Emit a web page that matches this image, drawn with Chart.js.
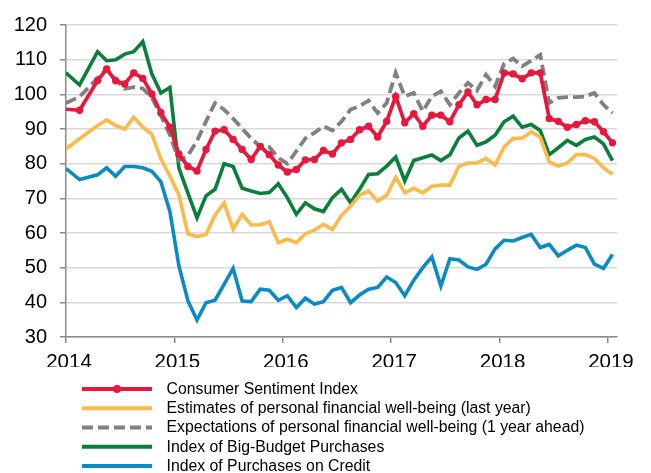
<!DOCTYPE html>
<html>
<head>
<meta charset="utf-8">
<script src="https://cdn.jsdelivr.net/npm/chart.js@4"></script>
<style>
    html, body { margin: 0; padding: 0; background: #fff; }
    #wrap { width: 651px; height: 473px; position: relative; }
</style>
</head>
<body>
<div id="wrap"><canvas id="myChart"></canvas></div>
<script>
// Survey positions, in months since January 2014 (values are mid-month)
const months = [0, 1.5, 3.5, 4.5, 5.5, 6.5, 7.5, 8.5, 9.5, 10.5, 11.5,
    12.5, 13.5, 14.5, 15.5, 16.5, 17.5, 18.5, 19.5, 20.5, 21.5, 22.5, 23.5,
    24.5, 25.5, 26.5, 27.5, 28.5, 29.5, 30.5, 31.5, 32.5, 33.5, 34.5, 35.5,
    36.5, 37.5, 38.5, 39.5, 40.5, 41.5, 42.5, 43.5, 44.5, 45.5, 46.5, 47.5,
    48.5, 49.5, 50.5, 51.5, 52.5, 53.5, 54.5, 55.5, 56.5, 57.5, 58.5, 59.5, 60.5];

const sentiment = [95.7, 95.4, 104.0, 107.3, 103.9, 103.0, 106.2, 104.6, 100.1, 94.7, 90.5,
    82.7, 79.2, 77.9, 84.1, 89.4, 89.8, 87.0, 84.1, 81.2, 85.0, 82.6, 79.6,
    77.6, 78.3, 81.1, 81.2, 83.8, 82.8, 86.0, 87.0, 89.8, 90.8, 87.7, 92.2,
    99.4, 91.8, 94.4, 90.8, 94.0, 94.0, 92.1, 97.0, 100.7, 97.0, 98.5, 98.5,
    106.2, 105.9, 104.5, 106.2, 106.2, 93.0, 92.2, 90.5, 91.3, 92.4, 92.1, 89.2, 86.0];

const estimates = [84.3, 87.2, 91.0, 92.6, 91.0, 90.0, 93.4, 90.5, 88.5, 81.4, 76.4,
    71.0, 59.7, 59.0, 59.6, 65.2, 68.6, 61.1, 65.4, 62.3, 62.4, 63.2, 57.2,
    58.2, 57.2, 59.8, 60.8, 62.5, 61.0, 65.1, 67.7, 70.9, 72.1, 69.2, 70.9,
    76.1, 71.6, 72.9, 71.6, 73.5, 73.8, 73.8, 79.3, 80.2, 80.2, 81.5, 79.6,
    84.8, 87.3, 87.4, 89.2, 87.6, 80.5, 79.3, 80.2, 82.6, 82.6, 81.5, 78.8, 76.9];

const expectations = [97.5, 99.3, 104.7, 107.3, 104.3, 101.6, 102.1, 101.7, 99.1, 93.9, 88.3,
    81.0, 82.4, 86.5, 92.2, 97.5, 95.6, 93.0, 90.1, 87.3, 85.0, 84.8, 81.7,
    80.0, 83.6, 87.3, 88.9, 90.8, 89.6, 92.2, 95.6, 96.6, 98.2, 94.6, 97.5,
    106.2, 99.4, 100.4, 95.1, 99.4, 100.9, 97.0, 100.4, 103.3, 101.1, 105.7, 102.3,
    108.8, 110.3, 108.1, 109.7, 111.4, 97.5, 99.0, 99.2, 99.2, 99.4, 100.4, 97.0, 94.6];

const bigBudget = [106.2, 102.7, 112.3, 109.7, 110.0, 111.6, 112.3, 115.2, 105.9, 100.4, 102.0,
    78.7, 71.5, 64.4, 70.7, 72.6, 80.0, 79.2, 72.9, 72.1, 71.4, 71.7, 74.2,
    70.2, 65.4, 68.7, 67.0, 66.2, 70.2, 72.6, 68.7, 72.6, 76.9, 77.1, 79.3,
    81.9, 75.0, 80.9, 81.7, 82.5, 80.9, 82.6, 87.4, 89.4, 85.3, 86.3, 88.2,
    92.1, 93.7, 90.5, 91.3, 89.6, 82.6, 84.6, 86.7, 85.3, 87.0, 87.7, 85.7, 80.9];

const credit = [78.6, 75.4, 76.8, 78.8, 76.4, 79.2, 79.2, 78.8, 77.8, 74.8, 66.2,
    50.5, 40.4, 34.9, 39.9, 40.6, 45.2, 49.8, 40.4, 40.2, 43.8, 43.5, 40.6,
    41.9, 38.5, 41.2, 39.5, 40.2, 43.5, 44.3, 39.9, 42.1, 43.8, 44.3, 47.3,
    45.7, 41.9, 46.4, 50.0, 53.1, 44.7, 52.6, 52.2, 50.2, 49.5, 51.0, 55.4,
    57.9, 57.7, 58.7, 59.6, 55.8, 56.7, 53.4, 55.0, 56.5, 55.8, 51.0, 49.8, 53.8];

const yearTicks = [0, 12, 24, 36, 48, 60];
const yearLabels = ['2014', '2015', '2016', '2017', '2018', '2019'];

const seriesNames = [
    'Consumer Sentiment Index',
    'Estimates of personal financial well-being (last year)',
    'Expectations of personal financial well-being (1 year ahead)',
    'Index of Big-Budget Purchases',
    'Index of Purchases on Credit'
];

const toPoints = values => values.map((v, i) => ({ x: months[i], y: v }));

// Legend drawn by hand: long line samples, stacked on the left
const sideLegend = {
    id: 'sideLegend',
    afterDraw(chart) {
        const ctx = chart.ctx;
        const rowTop = 389;
        const rowStep = 19.25;
        ctx.save();
        chart.data.datasets.forEach((ds, i) => {
            const y = rowTop + i * rowStep;
            ctx.beginPath();
            ctx.strokeStyle = ds.borderColor;
            ctx.lineWidth = 4;
            ctx.setLineDash(ds.borderDash || []);
            ctx.moveTo(82, y);
            ctx.lineTo(152, y);
            ctx.stroke();
            ctx.setLineDash([]);
            if (ds.showMarker) {
                ctx.beginPath();
                ctx.fillStyle = ds.borderColor;
                ctx.arc(117, y, 4, 0, Math.PI * 2);
                ctx.fill();
            }
            ctx.fillStyle = '#000';
            ctx.font = '15.8px "Liberation Sans", Arial, sans-serif';
            ctx.textBaseline = 'middle';
            ctx.textAlign = 'left';
            ctx.fillText(ds.label, 166.5, y + 0.5);
        });
        ctx.restore();
    }
};

const ctx = document.getElementById('myChart');

new Chart(ctx, {
    type: 'line',
    data: {
        datasets: [{
            label: seriesNames[0],
            data: toPoints(sentiment),
            borderColor: '#E8173C',
            backgroundColor: '#E8173C',
            borderWidth: 3.7,
            pointRadius: c => c.dataIndex === 0 ? 0 : 3.7,
            pointBorderWidth: 0,
            showMarker: true,
        }, {
            label: seriesNames[1],
            data: toPoints(estimates),
            borderColor: '#FDB94A',
            borderWidth: 3.6,
            pointRadius: 0,
        }, {
            label: seriesNames[2],
            data: toPoints(expectations),
            borderColor: '#808080',
            borderWidth: 3.8,
            borderDash: [11, 5],
            pointRadius: 0,
        }, {
            label: seriesNames[3],
            data: toPoints(bigBudget),
            borderColor: '#0A7F3A',
            borderWidth: 3.6,
            pointRadius: 0,
        }, {
            label: seriesNames[4],
            data: toPoints(credit),
            borderColor: '#0A8BC6',
            borderWidth: 3.6,
            pointRadius: 0,
        }]
    },
    options: {
        responsive: true,
        maintainAspectRatio: false,
        animation: false,
        events: [],
        layout: {
            padding: { left: 0, top: 24, right: 34, bottom: 106 }
        },
        plugins: {
            legend: { display: false },
            tooltip: { enabled: false }
        },
        scales: {
            x: {
                type: 'linear',
                min: 0,
                max: 61,
                afterBuildTicks: scale => {
                    scale.ticks = yearTicks.map(v => ({ value: v }));
                },
                afterFit: scale => { scale.height = 30; },
                ticks: {
                    callback: value => yearLabels[yearTicks.indexOf(value)],
                    color: '#000',
                    font: { family: '"Liberation Sans", Arial, sans-serif', size: 20.5 },
                    padding: 7,
                    labelOffset: 3,
                    maxRotation: 0,
                },
                grid: {
                    drawOnChartArea: false,
                    drawTicks: true,
                    tickLength: 6,
                    tickColor: '#8a8a8a',
                    lineWidth: 1.5,
                },
                border: { color: '#8a8a8a', width: 1.5 }
            },
            y: {
                min: 30,
                max: 120,
                afterFit: scale => { scale.width = 66; },
                ticks: {
                    stepSize: 10,
                    color: '#000',
                    font: { family: '"Liberation Sans", Arial, sans-serif', size: 20 },
                    padding: 13,
                },
                grid: {
                    color: '#d9d9d9',
                    lineWidth: 1.5,
                    tickLength: 6,
                    tickColor: '#8a8a8a',
                },
                border: { color: '#8a8a8a', width: 1.5 }
            }
        }
    },
    plugins: [sideLegend]
});
</script>
</body>
</html>
